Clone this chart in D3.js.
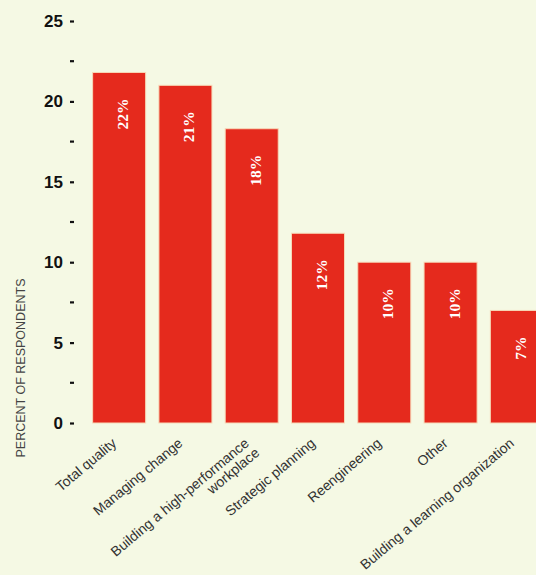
<!DOCTYPE html>
<html>
<head>
<meta charset="utf-8">
<script src="https://cdn.jsdelivr.net/npm/d3@7"></script>
<style>
  body { margin: 0; background: #f5f9e4; }
  svg { display: block; }
</style>
</head>
<body>
<svg id="chart"></svg>
<script>
let width = 536;
let height = 575;

// data
const categories = ["Total quality", "Managing change", "Building a high-performance|workplace",
	"Strategic planning", "Reengineering", "Other", "Building a learning organization"];
const values = [21.8, 21.0, 18.3, 11.8, 10.0, 10.0, 7.0];
const valueLabels = ["22%", "21%", "18%", "12%", "10%", "10%", "7%"];
const yTicks = [0, 5, 10, 15, 20, 25];
const yMinorTicks = [2.5, 7.5, 12.5, 17.5, 22.5];

const svg = d3.select("#chart").attr("width", width).attr("height", height);

svg.append("rect").attr("width", width).attr("height", height).attr("fill", "#f5f9e4");

const x = d3.scaleBand()
	.domain(categories)
	.range([86, 550])
	.paddingInner(0.2)
	.paddingOuter(0.1);

const y = d3.scaleLinear()
	.domain([0, 25])
	.range([423, 21]);

// bars
svg.append("g")
	.selectAll("rect")
	.data(categories)
	.enter()
	.append("rect")
	.attr("x", d => x(d))
	.attr("y", (d, i) => y(values[i]))
	.attr("width", x.bandwidth())
	.attr("height", (d, i) => y(0) - y(values[i]))
	.attr("fill", "#e52a1d")
	.attr("stroke", "#f7d9b8")
	.attr("stroke-width", 1);

// value labels inside bars
svg.append("g")
	.selectAll("text")
	.data(categories)
	.enter()
	.append("text")
	.attr("transform", (d, i) => `translate(${x(d) + x.bandwidth() / 2 + 9},${y(values[i]) + 26}) rotate(-90)`)
	.attr("text-anchor", "end")
	.attr("font-family", "'Liberation Serif', 'DejaVu Serif', serif")
	.attr("font-weight", "bold")
	.attr("font-size", 15.5)
	.attr("fill", "#ffffff")
	.text((d, i) => valueLabels[i]);

// y axis: major ticks with labels, minor ticks as dashes
const yAxis = svg.append("g").attr("transform", "translate(74,0)");
yAxis.call(d3.axisLeft(y).tickValues(yTicks).tickSize(4).tickPadding(7).tickFormat(d3.format("d")));
yAxis.select(".domain").remove();
yAxis.selectAll(".tick line").attr("stroke", "#111").attr("stroke-width", 2.2);
yAxis.selectAll(".tick text")
	.attr("font-family", "'Liberation Sans', Arial, sans-serif")
	.attr("font-weight", "bold")
	.attr("font-size", 17)
	.attr("fill", "#111");

svg.append("g")
	.selectAll("line")
	.data(yMinorTicks)
	.enter()
	.append("line")
	.attr("x1", 70).attr("x2", 74)
	.attr("y1", d => y(d)).attr("y2", d => y(d))
	.attr("stroke", "#111")
	.attr("stroke-width", 2.2);

// y axis title
svg.append("text")
	.attr("transform", "translate(25,368) rotate(-90)")
	.attr("text-anchor", "middle")
	.attr("font-family", "'Liberation Sans', Arial, sans-serif")
	.attr("font-size", 12.5)
	.attr("fill", "#444")
	.text("PERCENT OF RESPONDENTS");

// category labels, rotated
const xl = svg.append("g")
	.selectAll("text")
	.data(categories)
	.enter()
	.append("text")
	.attr("transform", d => `translate(${x(d) + x.bandwidth() / 2 - 5},441) rotate(-40)`)
	.attr("text-anchor", "end")
	.attr("font-family", "'Liberation Sans', Arial, sans-serif")
	.attr("font-size", 14)
	.attr("fill", "#333");

xl.each(function(d) {
	const lines = d.split("|");
	const t = d3.select(this);
	lines.forEach((ln, k) => {
		t.append("tspan")
			.attr("x", k === 0 ? 0 : 2)
			.attr("dy", k === 0 ? "0.35em" : "1.0em")
			.text(ln);
	});
});
</script>
</body>
</html>
